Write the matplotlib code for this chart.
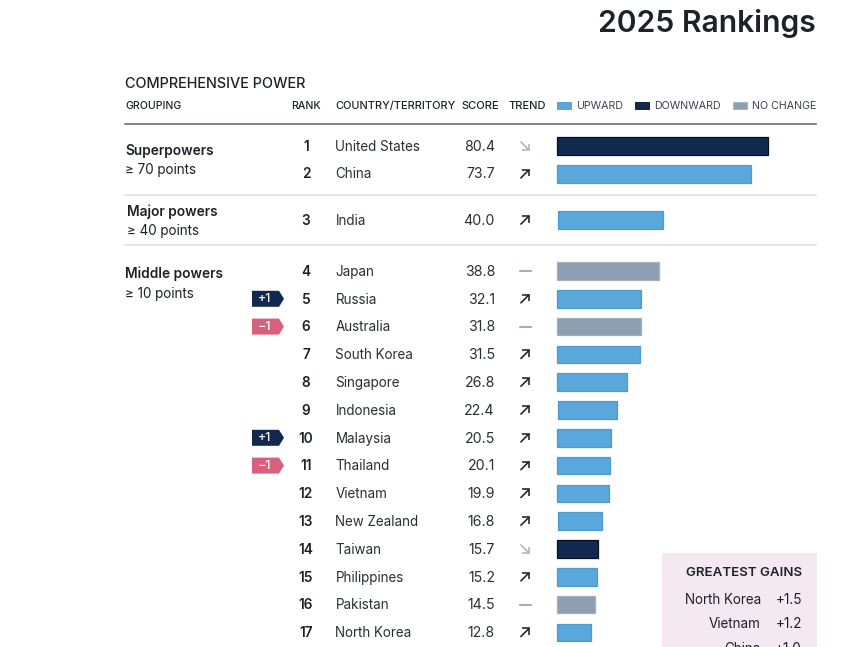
import matplotlib
matplotlib.use("Agg")
import matplotlib.pyplot as plt
from matplotlib.patches import Polygon, Rectangle

plt.rcParams['font.family'] = ['Inter', 'DejaVu Sans']

ranks = list(range(1, 18))
countries = ["United States", "China", "India", "Japan", "Russia", "Australia", "South Korea",
             "Singapore", "Indonesia", "Malaysia", "Thailand", "Vietnam", "New Zealand",
             "Taiwan", "Philippines", "Pakistan", "North Korea"]
scores = [80.4, 73.7, 40.0, 38.8, 32.1, 31.8, 31.5, 26.8, 22.4, 20.5, 20.1, 19.9, 16.8, 15.7, 15.2, 14.5, 12.8]
trends = ["down", "up", "up", "flat", "up", "flat", "up", "up", "up", "up", "up", "up", "up", "down", "up", "flat", "up"]
rank_changes = {5: "+1", 6: "\u22121", 10: "+1", 11: "\u22121"}
groups = [("Superpowers", "\u2265 70 points"), ("Major powers", "\u2265 40 points"), ("Middle powers", "\u2265 10 points")]
gains_names = ["North Korea", "Vietnam", "China"]
gains_values = ["+1.5", "+1.2", "+1.0"]
headers = ["GROUPING", "RANK", "COUNTRY/TERRITORY", "SCORE", "TREND"]
legend_labels = ["UPWARD", "DOWNWARD", "NO CHANGE"]

INK = "#1d2229"
COL = {"up": "#5aa7dc", "down": "#12294f", "flat": "#8f9fb2"}
EDGE = {"up": "#4b9bd2", "down": "#05101f", "flat": "#a3afbd"}
PX_PER_POINT = 2.63


def row_y(rank):
    gap = 0 if rank <= 2 else (18.4 if rank == 3 else 41.6)
    return 146 + 27.8 * (rank - 1) + gap


fig = plt.figure(figsize=(8.62, 6.47), dpi=100, facecolor="white")
ax = fig.add_axes([0, 0, 1, 1])
ax.set_xlim(0, 862)
ax.set_ylim(647, 0)
ax.axis("off")

ax.text(816, 24, "2025 Rankings", ha="right", va="center", fontsize=21.7, fontweight="semibold", color=INK)
ax.text(125, 84.5, "COMPREHENSIVE POWER", ha="left", va="center", fontsize=10.4, fontweight="medium", color=INK)

for label, x, ha, size in zip(headers, [125, 306, 335, 480, 527], ["left", "center", "left", "center", "center"],
                              [7.6, 7.6, 7.9, 8.0, 8.0]):
    ax.text(x, 106, label, ha=ha, va="center", fontsize=size, fontweight="medium", color=INK)

for label, key, x0 in zip(legend_labels, ["up", "down", "flat"], [557, 635, 733]):
    ax.add_patch(Rectangle((x0, 102), 14, 7, facecolor=COL[key], edgecolor=EDGE[key], lw=0.6))
    ax.text(x0 + 19.5, 106, label, ha="left", va="center", fontsize=7.7, color="#3a4350")

ax.plot([125, 816], [123.5, 123.5], color="#5b626c", lw=1.1)
ax.plot([125, 816], [194.5, 194.5], color="#dfe2e7", lw=1.2)
ax.plot([125, 816], [245, 245], color="#dfe2e7", lw=1.2)

for (name, sub), x, y1, y2 in zip(groups, [125, 127, 125], [150.5, 211.5, 273.5], [170, 231, 294]):
    ax.text(x, y1, name, ha="left", va="center", fontsize=9.9, fontweight="semibold", color=INK)
    ax.text(x, y2, sub, ha="left", va="center", fontsize=9.7, color=INK)

# Gains panel sits beneath the bars' right side
ax.add_patch(Rectangle((662, 553), 155, 100, facecolor="#f4e9f1", edgecolor="none", zorder=0))
ax.text(802.5, 573.5, "GREATEST GAINS", ha="right", va="center", fontsize=9.6, fontweight="semibold", color=INK)
for i, (name, val) in enumerate(zip(gains_names, gains_values)):
    y = 599.5 + 24.8 * i
    ax.text(761, y, name, ha="right", va="center", fontsize=9.7, color=INK)
    ax.text(802, y, val, ha="right", va="center", fontsize=9.8, color=INK)

for rank, country, score, trend in zip(ranks, countries, scores, trends):
    y = row_y(rank)
    ax.text(306, y + 0.7, str(rank), ha="center", va="center", fontsize=9.8, fontweight="semibold", color=INK)
    ax.text(335.5, y + 0.7, country, ha="left", va="center", fontsize=9.7, color="#2a2f36")
    ax.text(495, y + 0.7, f"{score:.1f}", ha="right", va="center", fontsize=10.2, color="#2a2f36")

    left = 558 if rank in (3, 9, 13) else 557
    ax.barh(y, score * PX_PER_POINT, left=left, height=17.5, color=COL[trend], edgecolor=EDGE[trend], lw=0.9)

    if trend == "flat":
        ax.plot([520.5, 531], [y, y], color="#8f9fb2", lw=1.2)
    else:
        s = -1 if trend == "up" else 1
        c = "#1d2229" if trend == "up" else "#a9b4c1"
        ax.plot([520.5, 529], [y - s * 4.5, y + s * 4], color=c, lw=1.15, solid_capstyle="butt")
        ax.plot([522.5, 529, 529], [y + s * 4, y + s * 4, y - s * 2.5], color=c, lw=1.15,
                solid_joinstyle="miter", solid_capstyle="butt")

    if rank in rank_changes:
        label = rank_changes[rank]
        c = "#12294f" if label.startswith("+") else "#d8607c"
        ax.add_patch(Polygon([(252, y - 8), (279, y - 8), (284, y), (279, y + 8), (252, y + 8)],
                             closed=True, facecolor=c, edgecolor="none"))
        ax.text(265, y + 0.5, label, ha="center", va="center", fontsize=9, fontweight="medium", color="white")

fig.savefig("out.png", dpi=100)
